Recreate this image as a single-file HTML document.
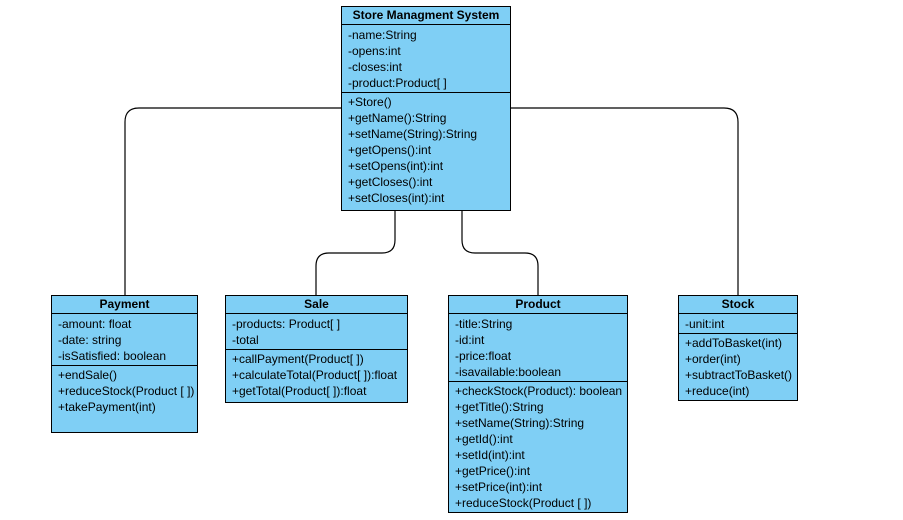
<!DOCTYPE html>
<html><head><style>
body{margin:0;width:903px;height:520px;background:#fff;position:relative;font-family:"Liberation Sans",Arial,sans-serif;font-size:12px;color:#000;overflow:hidden}
.b{position:absolute;background:#7fcff5;border:1px solid #000;box-sizing:border-box}
.h{height:17px;line-height:17px;text-align:center;font-weight:bold;border-bottom:1px solid #000}
.s{border-bottom:1px solid #000;padding:2px 0 1px 6px}
.m{padding:1px 0 0 6px}
.s div,.m div{height:16px;line-height:16px;white-space:nowrap}
svg{position:absolute;left:0;top:0}
</style></head><body>
<svg width="903" height="520"><g fill="none" stroke="#000" stroke-width="1.2">
<path d="M125 295 V122 Q125 108 139 108 H724 Q738 108 738 122 V295"/>
<path d="M395 210 V240 Q395 253 382 253 H329 Q316 253 316 266 V295"/>
<path d="M462 210 V240 Q462 253 475 253 H525 Q538 253 538 266 V295"/>
</g></svg>
<div class="b" style="left:341px;top:6px;width:170px;height:205px"><div class="h">Store Managment System</div>
<div class="s"><div>-name:String</div><div>-opens:int</div><div>-closes:int</div><div>-product:Product[ ]</div></div>
<div class="m"><div>+Store()</div><div>+getName():String</div><div>+setName(String):String</div><div>+getOpens():int</div><div>+setOpens(int):int</div><div>+getCloses():int</div><div>+setCloses(int):int</div></div></div>
<div class="b" style="left:51px;top:295px;width:147px;height:138px"><div class="h">Payment</div>
<div class="s"><div>-amount: float</div><div>-date: string</div><div>-isSatisfied: boolean</div></div>
<div class="m"><div>+endSale()</div><div>+reduceStock(Product [ ])</div><div>+takePayment(int)</div></div></div>
<div class="b" style="left:225px;top:295px;width:183px;height:108px"><div class="h">Sale</div>
<div class="s"><div>-products: Product[ ]</div><div>-total</div></div>
<div class="m"><div>+callPayment(Product[ ])</div><div>+calculateTotal(Product[ ]):float</div><div>+getTotal(Product[ ]):float</div></div></div>
<div class="b" style="left:448px;top:295px;width:180px;height:218px"><div class="h">Product</div>
<div class="s"><div>-title:String</div><div>-id:int</div><div>-price:float</div><div>-isavailable:boolean</div></div>
<div class="m"><div>+checkStock(Product): boolean</div><div>+getTitle():String</div><div>+setName(String):String</div><div>+getId():int</div><div>+setId(int):int</div><div>+getPrice():int</div><div>+setPrice(int):int</div><div>+reduceStock(Product [ ])</div></div></div>
<div class="b" style="left:678px;top:295px;width:120px;height:106px"><div class="h">Stock</div>
<div class="s"><div>-unit:int</div></div>
<div class="m"><div>+addToBasket(int)</div><div>+order(int)</div><div>+subtractToBasket()</div><div>+reduce(int)</div></div></div>
</body></html>
